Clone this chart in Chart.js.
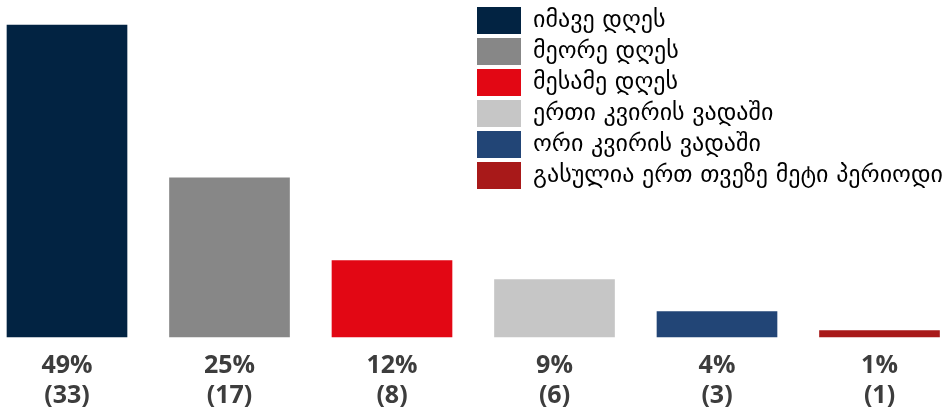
<!DOCTYPE html>
<html>
<head>
<meta charset="utf-8">
<script src="https://cdn.jsdelivr.net/npm/chart.js@4"></script>
<style>
  html, body { margin: 0; padding: 0; background: #fff; }
  #wrap { width: 949px; height: 413px; position: relative; }
</style>
</head>
<body>
<div id="wrap"><canvas id="bar-chart"></canvas></div>
<script>
let categories = [
    "იმავე დღეს",
    "მეორე დღეს",
    "მესამე დღეს",
    "ერთი კვირის ვადაში",
    "ორი კვირის ვადაში",
    "გასულია ერთ თვეზე მეტი პერიოდი"
];
let percents = [49, 25, 12, 9, 4, 1];
let counts = [33, 17, 8, 6, 3, 1];
let colors = ["#022342", "#878787", "#e20714", "#c6c6c6", "#224576", "#a81919"];

let tickLabels = percents.map(function (p, i) {
    return [p + "%", "(" + counts[i] + ")"];
});

// move the vertical legend to the top right corner
const legendSpot = {
    id: 'legendSpot',
    afterLayout: function (chart) {
        const lg = chart.legend;
        lg.left = 473;
        lg.right = 949;
        lg.top = 3;
        lg.bottom = 200;
    }
};

let chart = renderChart();

function renderChart() {
    var graph = new Chart(document.getElementById("bar-chart"), {
        type: 'bar',
        data: {
            labels: tickLabels,
            datasets: [{
                data: percents,
                backgroundColor: colors,
                borderWidth: 0,
                barThickness: 120,
                clip: false
            }]
        },
        options: {
            responsive: true,
            maintainAspectRatio: false,
            animation: false,
            layout: {
                padding: { left: 67, right: 69.5, top: 25, bottom: 0 }
            },
            scales: {
                x: {
                    offset: false,
                    grid: { display: false, drawTicks: false },
                    border: { display: false },
                    afterFit: function (scale) {
                        scale.height = 76;
                    },
                    ticks: {
                        padding: 14,
                        color: '#3d3d3d',
                        maxRotation: 0,
                        autoSkip: false,
                        font: { family: 'Open Sans', size: 25, weight: '700', lineHeight: 1.2 }
                    }
                },
                y: {
                    display: false,
                    min: 0,
                    max: 49
                }
            },
            plugins: {
                tooltip: { enabled: false },
                legend: {
                    position: 'chartArea',
                    align: 'start',
                    labels: {
                        boxWidth: 44,
                        boxHeight: 27,
                        padding: 4,
                        color: '#111',
                        font: { family: 'DejaVu Sans', size: 24 },
                        generateLabels: function () {
                            return categories.map(function (c, i) {
                                return {
                                    text: c,
                                    fillStyle: colors[i],
                                    strokeStyle: colors[i],
                                    lineWidth: 0,
                                    hidden: false,
                                    index: i
                                };
                            });
                        }
                    }
                }
            }
        },
        plugins: [legendSpot]
    });
    return graph;
}
</script>
</body>
</html>
